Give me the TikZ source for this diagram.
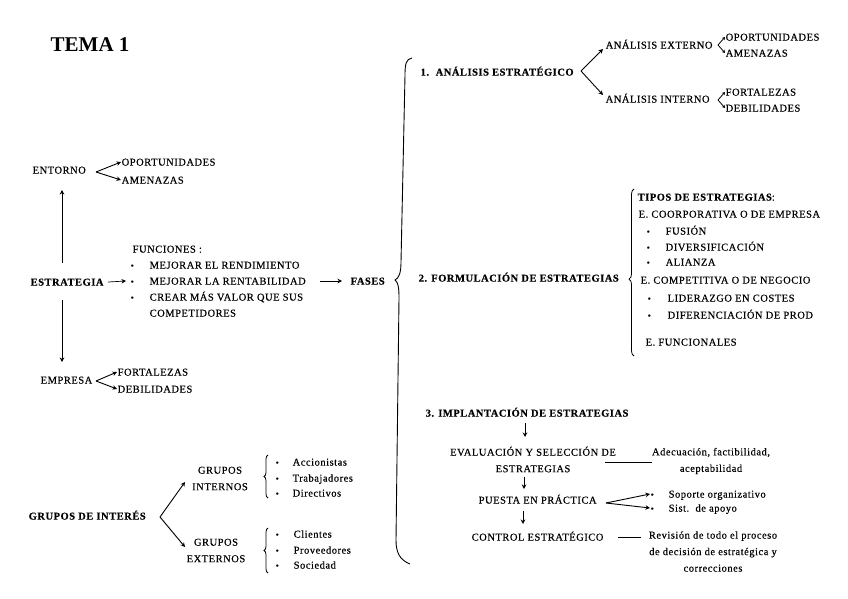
\documentclass[tikz,border=0pt]{standalone}
\usepackage{fontspec}
\setmainfont{Liberation Serif}[LetterSpace=5, FakeBold=0.3]
\newfontfamily\titlefont{Liberation Serif}
\usetikzlibrary{arrows.meta,decorations.pathreplacing}
\tikzset{
  t/.style={font=\fontsize{10.5}{16.5}\selectfont, inner sep=0.5pt, text height=7.2pt, text depth=0pt, anchor=west},
  tb/.style={t, font=\fontsize{10.5}{16.5}\selectfont\bfseries},
  ml/.style={font=\fontsize{10.5}{16.5}\selectfont, inner sep=0.5pt, align=center},
  bul/.style={t, font=\fontsize{9}{10}\selectfont},
  arr/.style={-{Stealth[length=4.5pt,width=4.5pt]}, line width=0.9pt},
  arrs/.style={-{Stealth[length=3pt,width=3.5pt]}, line width=0.8pt},
  ln/.style={line width=0.9pt},
  brc/.style={line width=0.8pt, decorate, decoration={brace, amplitude=4pt}}
}
\begin{document}
\begin{tikzpicture}[x=1pt,y=-1pt]
\useasboundingbox (0,0) rectangle (848,599);
\fill[white] (0,0) rectangle (848,599);

% title
\node[t, font=\titlefont\fontsize{21}{24}\selectfont\bfseries, text height=14pt] (tema) at (50,45) {TEMA 1};

% ---------- left block ----------
\node[t] (ent) at (32,170) {ENTORNO};
\node[t] (ent1) at (121,162) {OPORTUNIDADES};
\node[t] (ent2) at (121,180) {AMENAZAS};
\coordinate (entF) at (96,172);
\draw[arr] (entF) -- (ent1.west);
\draw[arr] (entF) -- (ent2.west);

\node[tb] (est) at (30,282) {ESTRATEGIA};
\coordinate (vUa) at (62,263);
\coordinate (vUb) at (62,190);
\coordinate (vDa) at (62,300);
\coordinate (vDb) at (62,362);
\draw[arr] (vUa) -- (vUb);
\draw[arr] (vDa) -- (vDb);

\node[t] (fun) at (132,249) {FUNCIONES :};
\node[bul] (fb1) at (130,265) {\textbullet};
\node[bul] (fb2) at (130,281) {\textbullet};
\node[bul] (fb3) at (130,297) {\textbullet};
\node[t] (f1) at (149,265) {MEJORAR EL RENDIMIENTO};
\node[t] (f2) at (149,281) {MEJORAR LA RENTABILIDAD};
\node[t] (f3) at (149,297) {CREAR MÁS VALOR QUE SUS};
\node[t] (f4) at (149,313) {COMPETIDORES};
\draw[arr, line width=0.7pt] ([xshift=4pt]est.east) -- ([xshift=-4pt]fb2.west);

\node[tb] (fas) at (350,281) {FASES};
\draw[arr] ([xshift=14pt]f2.east) -- ([xshift=-8pt]fas.west);

\node[t] (emp) at (40,380) {EMPRESA};
\node[t] (emp1) at (117,372) {FORTALEZAS};
\node[t] (emp2) at (117,389) {DEBILIDADES};
\coordinate (empF) at (96,381);
\draw[arr] (empF) -- (emp1.west);
\draw[arr] (empF) -- (emp2.west);

% big brace
\draw[line width=0.9pt] (412,58) .. controls (406,59) and (405,64) .. (405,75)
  -- (401,262) .. controls (401,273) and (399,278) .. (395,280)
  .. controls (398,282) and (399,287) .. (399,298)
  -- (396,540) .. controls (396,553) and (400,560) .. (410,564);

% ---------- phase 1 ----------
\node[tb] (s1n) at (420,72) {1.};
\node[tb] (s1) at (435,72) {ANÁLISIS ESTRATÉGICO};
\coordinate (s1F) at (581,71);
\node[t] (ae) at (605,45) {ANÁLISIS EXTERNO};
\node[t] (ai) at (605,99) {ANÁLISIS INTERNO};
\coordinate (aeE) at (603,49);
\coordinate (aiE) at (603,95);
\draw[arr] (s1F) -- (aeE);
\draw[arr] (s1F) -- (aiE);

\node[t] (ae1) at (725,37) {OPORTUNIDADES};
\node[t] (ae2) at (725,53) {AMENAZAS};
\coordinate (aeF) at (718,45);
\draw[arrs] (aeF) -- (ae1.west);
\draw[arrs] (aeF) -- (ae2.west);

\node[t] (ai1) at (725,92) {FORTALEZAS};
\node[t] (ai2) at (725,108) {DEBILIDADES};
\coordinate (aiF) at (718,100);
\draw[arrs] (aiF) -- (ai1.west);
\draw[arrs] (aiF) -- (ai2.west);

% ---------- phase 2 ----------
\node[tb] (s2) at (418,278) {2. FORMULACIÓN DE ESTRATEGIAS};
\draw[line width=0.8pt, decorate, decoration={brace, amplitude=5pt, aspect=0.46}] (634,356) -- (634,189);

\node[t] (tp) at (637,197) {\bfseries TIPOS DE ESTRATEGIAS\mdseries:};
\node[t] (ec) at (638,214) {E. COORPORATIVA O DE EMPRESA};
\node[bul] (eb1) at (646,231) {\textbullet};
\node[bul] (eb2) at (646,247) {\textbullet};
\node[bul] (eb3) at (646,262) {\textbullet};
\node[t] (fu) at (665,231) {FUSIÓN};
\node[t] (di) at (665,247) {DIVERSIFICACIÓN};
\node[t] (al) at (665,262) {ALIANZA};
\node[t] (ecp) at (640,280) {E. COMPETITIVA O DE NEGOCIO};
\node[bul] (eb4) at (647,298) {\textbullet};
\node[bul] (eb5) at (647,315) {\textbullet};
\node[t] (li) at (667,298) {LIDERAZGO EN COSTES};
\node[t] (dif) at (667,315) {DIFERENCIACIÓN DE PROD};
\node[t] (ef) at (645,342) {E. FUNCIONALES};

% ---------- phase 3 ----------
\node[tb] (s3) at (425,413) {3. IMPLANTACIÓN DE ESTRATEGIAS};
\coordinate (d1a) at (525,423);
\coordinate (d1b) at (525,437);
\draw[arr] (d1a) -- (d1b);

\node[ml] (ev) at (533,459.5) {EVALUACIÓN Y SELECCIÓN DE\\ESTRATEGIAS};
\node[ml] (ad) at (711,461) {Adecuación, factibilidad,\\aceptabilidad};
\coordinate (l1a) at (605,462);
\coordinate (l1b) at (652,462);
\draw[ln] (l1a) -- (l1b);

\coordinate (d2a) at (524,477);
\coordinate (d2b) at (524,489);
\draw[arr] (d2a) -- (d2b);

\node[t] (pp) at (478,500) {PUESTA EN PRÁCTICA};
\coordinate (ppF) at (606,503);
\node[bul] (pb1) at (650,494) {\textbullet};
\node[bul] (pb2) at (650,508) {\textbullet};
\node[t] (so) at (668,494) {Soporte organizativo};
\node[t] (sa) at (668,508) {Sist.\ \ de apoyo};
\draw[arr] (ppF) -- (pb1.west);
\draw[arr] (ppF) -- (pb2.west);

\coordinate (d3a) at (523,511);
\coordinate (d3b) at (523,524);
\draw[arr] (d3a) -- (d3b);

\node[t] (ce) at (471,537) {CONTROL ESTRATÉGICO};
\coordinate (l2a) at (618,537);
\coordinate (l2b) at (641,537);
\draw[ln] (l2a) -- (l2b);
\node[ml] (rv) at (713,551.5) {Revisión de todo el proceso\\de decisión de estratégica y\\correcciones};

% ---------- grupos de interés ----------
\node[tb] (gi) at (28,516) {GRUPOS DE INTERÉS};
\coordinate (giF) at (160,517);
\coordinate (giA) at (185,482);
\coordinate (giB) at (185,547);
\draw[arr] (giF) -- (giA);
\draw[arr] (giF) -- (giB);

\node[ml] (gin) at (220,478.5) {GRUPOS\\INTERNOS};
\node[ml] (gex) at (216,550.5) {GRUPOS\\EXTERNOS};

\draw[brc] (268,498) -- (268,455);
\draw[brc] (268,573) -- (268,528);

\node[bul] (gb1) at (275,462) {\textbullet};
\node[bul] (gb2) at (275,478) {\textbullet};
\node[bul] (gb3) at (275,493) {\textbullet};
\node[t] (ac) at (292,462) {Accionistas};
\node[t] (tr) at (292,478) {Trabajadores};
\node[t] (dr) at (292,493) {Directivos};

\node[bul] (gb4) at (275,534) {\textbullet};
\node[bul] (gb5) at (275,550) {\textbullet};
\node[bul] (gb6) at (275,565) {\textbullet};
\node[t] (cl) at (293,534) {Clientes};
\node[t] (pv) at (293,550) {Proveedores};
\node[t] (so2) at (293,565) {Sociedad};
\end{tikzpicture}
\end{document}
